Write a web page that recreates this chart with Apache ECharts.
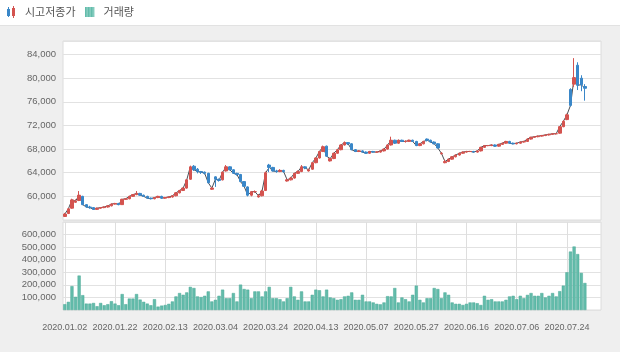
<!DOCTYPE html>
<html>
<head>
<meta charset="utf-8">
<script src="https://cdn.jsdelivr.net/npm/echarts@6/dist/echarts.min.js"></script>
<style>
  html, body { margin: 0; padding: 0; background: #efefef; }
  #chart { width: 620px; height: 352px; }
</style>
</head>
<body>
<div id="chart"></div>
<script>
// 거래일 (2020.01.02 ~ 2020.07.31)
const dates = [
  '2020.01.02','2020.01.03','2020.01.06','2020.01.07','2020.01.08','2020.01.09','2020.01.10','2020.01.13','2020.01.14','2020.01.15',
  '2020.01.16','2020.01.17','2020.01.20','2020.01.21','2020.01.22','2020.01.23','2020.01.28','2020.01.29','2020.01.30','2020.01.31',
  '2020.02.03','2020.02.04','2020.02.05','2020.02.06','2020.02.07','2020.02.10','2020.02.11','2020.02.12','2020.02.13','2020.02.14',
  '2020.02.17','2020.02.18','2020.02.19','2020.02.20','2020.02.21','2020.02.24','2020.02.25','2020.02.26','2020.02.27','2020.02.28',
  '2020.03.02','2020.03.03','2020.03.04','2020.03.05','2020.03.06','2020.03.09','2020.03.10','2020.03.11','2020.03.12','2020.03.13',
  '2020.03.16','2020.03.17','2020.03.18','2020.03.19','2020.03.20','2020.03.23','2020.03.24','2020.03.25','2020.03.26','2020.03.27',
  '2020.03.30','2020.03.31','2020.04.01','2020.04.02','2020.04.03','2020.04.06','2020.04.07','2020.04.08','2020.04.09','2020.04.10',
  '2020.04.13','2020.04.14','2020.04.16','2020.04.17','2020.04.20','2020.04.21','2020.04.22','2020.04.23','2020.04.24','2020.04.27',
  '2020.04.28','2020.04.29','2020.05.04','2020.05.06','2020.05.07','2020.05.08','2020.05.11','2020.05.12','2020.05.13','2020.05.14',
  '2020.05.15','2020.05.18','2020.05.19','2020.05.20','2020.05.21','2020.05.22','2020.05.25','2020.05.26','2020.05.27','2020.05.28',
  '2020.05.29','2020.06.01','2020.06.02','2020.06.03','2020.06.04','2020.06.05','2020.06.08','2020.06.09','2020.06.10','2020.06.11',
  '2020.06.12','2020.06.15','2020.06.16','2020.06.17','2020.06.18','2020.06.19','2020.06.22','2020.06.23','2020.06.24','2020.06.25',
  '2020.06.26','2020.06.29','2020.06.30','2020.07.01','2020.07.02','2020.07.03','2020.07.06','2020.07.07','2020.07.08','2020.07.09',
  '2020.07.10','2020.07.13','2020.07.14','2020.07.15','2020.07.16','2020.07.17','2020.07.20','2020.07.21','2020.07.22','2020.07.23',
  '2020.07.24','2020.07.27','2020.07.28','2020.07.29','2020.07.30','2020.07.31'
];

const openPrices = [
  56600,57100,58000,59000,59300,60000,58600,58200,58100,57800, 58000,58100,58200,58400,58700,58800,58600,59500,59600,60000,
  60300,60500,60200,60000,59700,59600,59800,60000,59700,59800, 59900,60100,60600,61000,61400,62900,65100,64600,64200,64100,
  63900,61200,63300,62900,62800,64300,65000,64500,63900,63700, 62500,61600,60200,60800,59900,60100,61000,65300,64900,64300,
  64200,64400,62600,62800,63100,63900,64200,65000,64300,64600, 65700,66500,67600,68500,66000,66400,67300,67900,68700,69100,
  68900,67900,67600,67700,67500,67300,67600,67500,67500,67700, 68000,68700,69500,69000,69500,69300,69300,69500,69300,68600,
  68900,69700,69500,69200,68900,67200,65700,65900,66300,66700, 67000,67300,67500,67600,67600,67500,67700,68300,68600,68600,
  68700,68500,68800,69000,69300,69000,68900,69000,69200,69300, 69700,70000,70100,70200,70300,70400,70500,70600,70700,71800,
  73000,78100,79000,82200,80000,78600
];
const closePrices = [
  57000,57900,59400,59200,60200,58600,58200,58100,57800,58000, 58100,58200,58400,58700,58800,58600,59500,59600,60000,60300,
  60500,60200,60000,59700,59600,59800,60000,59700,59800,59900, 60100,60600,61000,61400,62800,65000,64500,64200,64100,63900,
  62300,61400,62900,62700,64100,65000,64500,63900,63700,62500, 61700,60200,60800,60800,60100,60900,64000,64900,64300,64200,
  64400,64200,62800,63100,63900,64200,65000,64800,64500,65700, 66500,67600,68400,66800,66400,67300,67900,68700,69100,68900,
  67900,67600,67700,67500,67300,67600,67500,67500,67700,68000, 68700,69500,69000,69500,69300,69300,69500,69300,68600,68900,
  69300,69500,69200,68900,68200,67300,65900,66300,66700,67000, 67300,67500,67600,67600,67500,67700,68300,68600,68600,68700,
  68500,68800,69000,69300,69000,68900,69000,69200,69300,69700, 70000,70100,70200,70300,70400,70500,70600,70600,71800,72700,
  73800,75400,80100,78800,78900,78300
];
const lowPrices = [
  56500,57000,57900,58900,59200,58500,58100,57900,57700,57700, 57900,58000,58100,58300,58600,58500,58600,59400,59500,59900,
  60200,60100,59900,59600,59500,59500,59700,59600,59600,59700, 59800,60000,60500,60900,61300,62800,64300,63900,63800,63700,
  62200,61100,61600,62500,62700,64200,64400,63800,63500,62400, 61600,60000,60000,60600,59800,60000,60900,64100,64200,64000,
  64100,64000,62500,62700,63000,63800,64100,64600,64200,64500, 65600,66400,67500,66700,65900,66300,67200,67800,68600,68700,
  67800,67500,67500,67400,67200,67200,67400,67400,67400,67600, 67900,68600,68900,68900,69200,69100,69200,69200,68500,68500,
  68800,69300,69100,68800,68100,67100,65600,65800,66200,66600, 66900,67200,67400,67500,67400,67400,67600,68200,68500,68500,
  68400,68400,68700,68900,68900,68800,68800,68900,69100,69200, 69600,69900,70000,70100,70200,70300,70400,70500,70600,71700,
  72900,75200,78500,78000,77800,76200
];
const highPrices = [
  57200,58000,59600,59500,60900,60100,58700,58400,58200,58100, 58200,58300,58500,58800,58900,58900,59600,59700,60100,60400,
  60900,60600,60300,60100,59800,59900,60100,60100,59900,60000, 60200,60700,61100,61500,62900,65200,65300,64800,64300,64200,
  64000,61600,63400,63000,64200,65300,65100,64600,64000,63800, 62600,61700,60900,61000,60400,61100,64200,65500,65000,64500,
  64600,64500,63000,63300,64000,64400,65300,65100,64700,65800, 66600,67700,68600,68600,66500,67400,68000,68800,69300,69200,
  69000,68000,67800,67800,67600,67700,67700,67600,67800,68100, 68800,70100,69600,69600,69600,69500,69600,69600,69400,69000,
  69400,69800,69600,69300,69000,67500,66200,66400,66800,67100, 67400,67600,67700,67700,67700,67800,68400,68700,68700,68800,
  68800,68900,69100,69400,69400,69100,69100,69300,69400,69800, 70100,70200,70300,70400,70500,70600,70700,70700,71900,72900,
  74000,78300,83400,82700,80500,79000
];
const volumes = [
  46000,65000,190000,105000,274000,118000,51000,51000,56000,30000, 56000,38000,46000,70000,51000,38000,127000,46000,91000,91000,
  127000,83000,65000,51000,38000,86000,27000,35000,40000,49000, 68000,108000,135000,121000,140000,184000,175000,108000,103000,113000,
  148000,68000,81000,113000,162000,94000,94000,135000,68000,202000, 167000,162000,94000,148000,148000,108000,148000,184000,94000,94000,
  86000,68000,94000,184000,108000,81000,148000,68000,68000,121000, 162000,157000,108000,162000,100000,94000,81000,86000,108000,113000,
  140000,81000,81000,121000,68000,68000,60000,49000,45000,60000, 110000,108000,175000,60000,100000,86000,68000,121000,194000,81000,
  60000,94000,94000,175000,167000,94000,140000,121000,60000,49000, 49000,40000,49000,60000,60000,54000,40000,113000,81000,86000,
  68000,68000,68000,81000,108000,113000,86000,113000,94000,120000, 135000,113000,113000,135000,100000,113000,135000,108000,150000,194000,
  300000,465000,505000,445000,295000,215000
];

const UP = '#d4534f';
const DOWN = '#3a87c8';
const VOL = '#63bcab';

const candleData = openPrices.map((o, i) => [o, closePrices[i], lowPrices[i], highPrices[i]]);

const candleIcon = 'image://data:image/svg+xml;charset=utf-8,' + encodeURIComponent(
  "<svg xmlns='http://www.w3.org/2000/svg' width='10' height='12'>" +
  "<line x1='2.5' y1='1' x2='2.5' y2='11' stroke='" + DOWN + "'/>" +
  "<rect x='1' y='3' width='3' height='7' fill='" + DOWN + "'/>" +
  "<line x1='7.5' y1='0' x2='7.5' y2='12' stroke='" + UP + "'/>" +
  "<rect x='6' y='2' width='3' height='8' fill='" + UP + "'/></svg>");
const volIcon = 'image://data:image/svg+xml;charset=utf-8,' + encodeURIComponent(
  "<svg xmlns='http://www.w3.org/2000/svg' width='10' height='10'>" +
  "<rect x='0' y='0' width='10' height='10' fill='" + VOL + "'/>" +
  "<rect x='2' y='0' width='1' height='10' fill='#9ad6ca'/>" +
  "<rect x='5' y='0' width='1' height='10' fill='#9ad6ca'/>" +
  "<rect x='8' y='0' width='1' height='10' fill='#9ad6ca'/></svg>");

const chart = echarts.init(document.getElementById('chart'));

const axisFont = '"Liberation Sans", Arial, sans-serif';

const option = {
  backgroundColor: '#efefef',
  animation: false,
  graphic: [
    { type: 'rect', shape: { x: 0, y: 0, width: 620, height: 25 }, style: { fill: '#fff' }, z: -10 },
    { type: 'line', shape: { x1: 0, y1: 25.5, x2: 620, y2: 25.5 }, style: { stroke: '#e2e2e2', lineWidth: 1 }, z: -10 }
  ],
  legend: {
    left: 6,
    top: 6,
    itemWidth: 10,
    itemHeight: 12,
    itemGap: 9,
    padding: 0,
    textStyle: { fontSize: 11, color: '#555', fontFamily: '"Noto Sans CJK KR", sans-serif', padding: [0, 0, 0, 4] },
    data: [
      { name: '시고저종가', icon: candleIcon },
      { name: '거래량', icon: volIcon }
    ]
  },
  grid: [
    { left: 63, right: 19, top: 41, height: 179, show: true, backgroundColor: '#fff', borderColor: '#dcdcdc', borderWidth: 1 },
    { left: 63, right: 19, top: 222, height: 88, show: true, backgroundColor: '#fff', borderColor: '#dcdcdc', borderWidth: 1 }
  ],
  xAxis: [
    {
      type: 'category', gridIndex: 0, data: dates, boundaryGap: true, max: 149,
      axisLine: { show: false }, axisTick: { show: false }, axisLabel: { show: false }, splitLine: { show: false }
    },
    {
      type: 'category', gridIndex: 1, data: dates, boundaryGap: true, max: 149,
      axisLine: { show: false },
      axisTick: { show: false, interval: 13, alignWithLabel: true },
      axisLabel: { interval: 13, margin: 13, fontSize: 9, color: '#666', fontFamily: axisFont },
      splitLine: { show: true, interval: 13, alignWithLabel: true, lineStyle: { color: '#dedede', width: 1 } }
    }
  ],
  yAxis: [
    {
      type: 'value', gridIndex: 0, min: 56000, max: 86300, interval: 4000,
      axisLine: { show: false }, axisTick: { show: false },
      axisLabel: { showMinLabel: false, showMaxLabel: false, margin: 7, fontSize: 9.5, color: '#666', fontFamily: axisFont },
      splitLine: { lineStyle: { color: '#e2e2e2', width: 1 } }
    },
    {
      type: 'value', gridIndex: 1, min: 0, max: 700000, interval: 100000,
      axisLine: { show: false }, axisTick: { show: false },
      axisLabel: { showMinLabel: false, showMaxLabel: false, margin: 7, fontSize: 9.5, color: '#666', fontFamily: axisFont },
      splitLine: { lineStyle: { color: '#e2e2e2', width: 1 } }
    }
  ],
  series: [
    {
      name: '시고저종가',
      type: 'candlestick',
      xAxisIndex: 0, yAxisIndex: 0,
      data: candleData,
      barWidth: 3,
      itemStyle: { color: UP, color0: DOWN, borderColor: UP, borderColor0: DOWN, borderWidth: 1 }
    },
    {
      name: '종가',
      type: 'line',
      xAxisIndex: 0, yAxisIndex: 0,
      data: closePrices,
      showSymbol: false,
      lineStyle: { color: '#4b4f57', width: 1 },
      z: 1
    },
    {
      name: '거래량',
      type: 'bar',
      xAxisIndex: 1, yAxisIndex: 1,
      data: volumes,
      barCategoryGap: '12%',
      itemStyle: { color: VOL, borderColor: '#4aa897', borderWidth: 0.5 }
    }
  ]
};

chart.setOption(option);
</script>
</body>
</html>
